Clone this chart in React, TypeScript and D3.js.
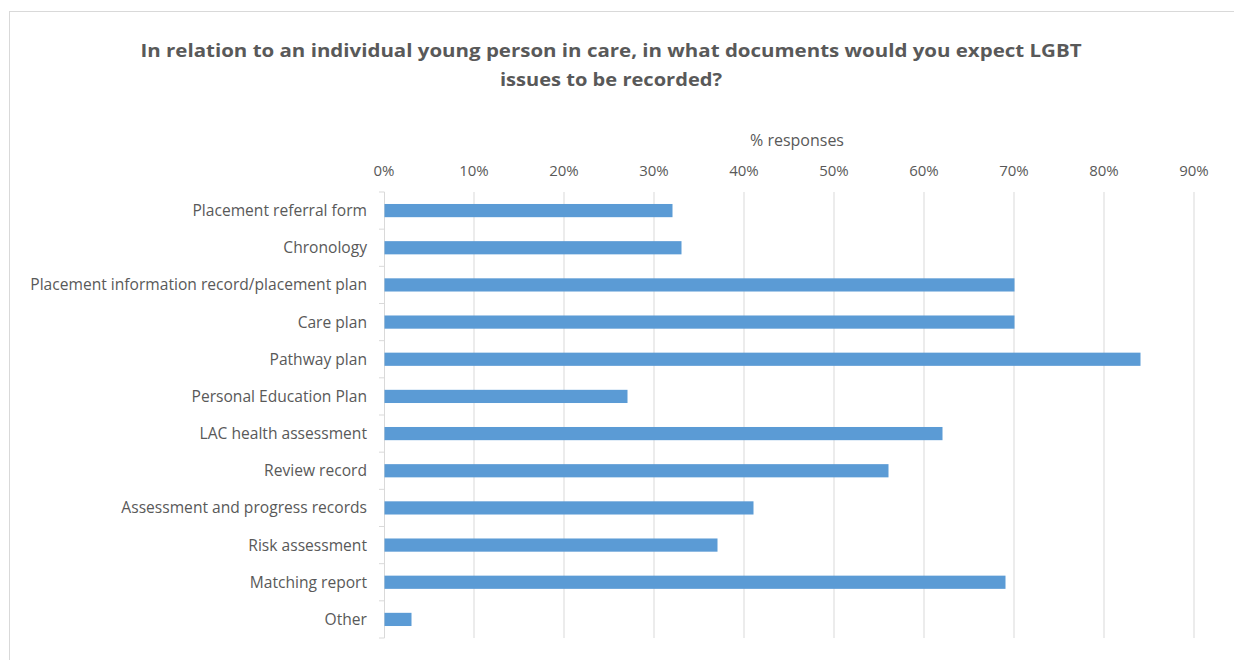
import React from "react";
import * as d3 from "d3";

const categories = [
  "Placement referral form",
  "Chronology ",
  "Placement information record/placement plan",
  "Care plan",
  "Pathway plan",
  "Personal Education Plan",
  "LAC health assessment ",
  "Review record",
  "Assessment and progress records",
  "Risk assessment ",
  "Matching report",
  "Other",
];
const values = [0.32, 0.33, 0.70, 0.70, 0.84, 0.27, 0.62, 0.56, 0.41, 0.37, 0.69, 0.03];
const tickValues = [0, 0.1, 0.2, 0.3, 0.4, 0.5, 0.6, 0.7, 0.8, 0.9];
const titleLines = [
  "In relation to an individual young person in care, in what documents would you expect LGBT",
  "issues to be recorded?",
];
const axisTitle = "% responses";

const W = 1234;
const H = 660;
const FONT = "'Open Sans', sans-serif";
const TEXT = "#595959";

export default function App() {
  const x = d3.scaleLinear().domain([0, 0.9]).range([384, 1194]);
  const y = d3.scaleBand().domain(categories).range([192, 638]).paddingInner(0.645).paddingOuter(0.3225);
  const band = d3.scaleBand().domain(categories).range([192, 638]);
  const fmt = d3.format(".0%");
  return (
    <svg width={W} height={H} style={{ position: "absolute", left: 0, top: 0, background: "#fff" }} fontFamily={FONT}>
      <rect x={9.5} y={11.5} width={W + 10} height={H + 10} fill="#fff" stroke="#D9D9D9" strokeWidth={1} />
      {titleLines.map((t, i) => (
        <text key={i} x={611} y={57 + i * 29} textAnchor="middle" fontSize={18.5} fontWeight="bold" fill={TEXT}
          textLength={i === 0 ? 941 : 222} lengthAdjust="spacingAndGlyphs">{t}</text>
      ))}
      <text x={797} y={146} textAnchor="middle" fontSize={16} fill={TEXT}>{axisTitle}</text>
      {tickValues.map((t) => (
        <g key={t}>
          {t > 0 && <line x1={x(t)} x2={x(t)} y1={192} y2={638} stroke="#D9D9D9" strokeWidth={1} />}
          <text x={x(t)} y={176} textAnchor="middle" fontSize={15} fill={TEXT}>{fmt(t)}</text>
        </g>
      ))}
      <line x1={384.5} x2={384.5} y1={192} y2={638} stroke="#D9D9D9" strokeWidth={1} />
      {[...categories.map((c) => band(c)!), 638].map((v, i) => (
        <line key={i} x1={379} x2={384.5} y1={v} y2={v} stroke="#D9D9D9" strokeWidth={1} />
      ))}
      {categories.map((c, i) => (
        <g key={c}>
          <rect x={x(0) + 0.5} y={y(c)!} width={x(values[i]) - x(0)} height={y.bandwidth()} fill="#5B9BD5" />
          <text x={367} y={band(c)! + band.bandwidth() / 2 + 5.5} textAnchor="end" fontSize={15.6} fill={TEXT}>{c}</text>
        </g>
      ))}
    </svg>
  );
}
